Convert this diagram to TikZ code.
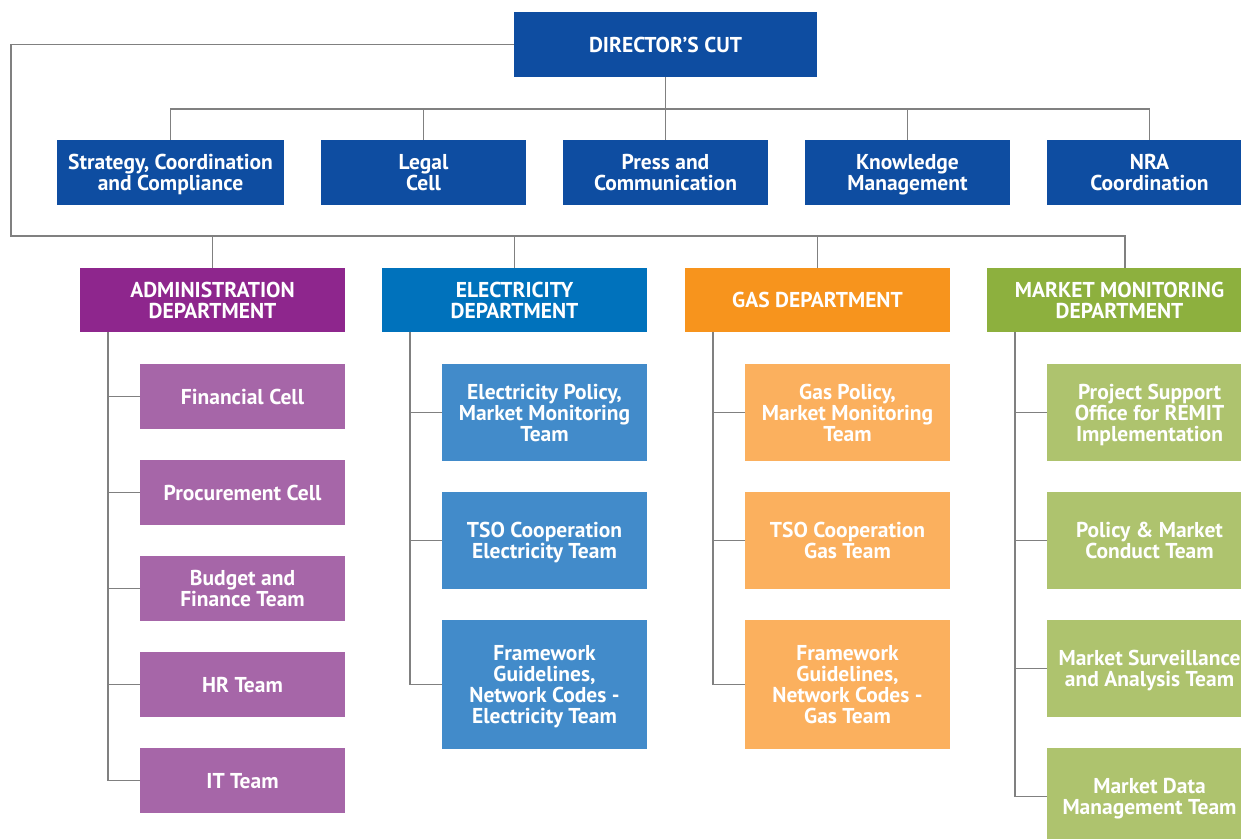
\documentclass[tikz,border=0pt]{standalone}
\usepackage{fontspec}
\setmainfont{PT Sans}
\definecolor{topblue}{RGB}{14,77,161}
\definecolor{admdark}{RGB}{142,38,141}
\definecolor{admlight}{RGB}{166,102,168}
\definecolor{eledark}{RGB}{0,114,188}
\definecolor{elelight}{RGB}{66,139,202}
\definecolor{gasdark}{RGB}{247,148,29}
\definecolor{gaslight}{RGB}{251,176,94}
\definecolor{mmdark}{RGB}{141,176,62}
\definecolor{mmlight}{RGB}{174,195,110}
\definecolor{linegray}{RGB}{128,128,128}
\begin{document}
\begin{tikzpicture}[x=1pt,y=-1pt,
  box/.style={rectangle, inner sep=0pt, text=white, align=center, text depth=0pt,
    font=\bfseries\fontsize{21.5}{21}\selectfont},
  topbox/.style={box, fill=topblue, minimum width=205pt, minimum height=65pt},
  dept/.style={box, minimum width=265pt, minimum height=64pt},
  kid/.style={box, minimum width=205pt},
  ln/.style={draw=linegray, line width=1.3pt}]
\useasboundingbox (0,0) rectangle (1241,838);
% director and top row
\node[topbox, minimum width=303pt] (dir) at (665.5,44.5) {DIRECTOR’S CUT};
\node[topbox, minimum width=227pt] (strat) at (170.5,172.5) {Strategy, Coordination\\and Compliance};
\node[topbox] (legal) at (423.5,172.5) {Legal\\Cell};
\node[topbox] (press) at (665.5,172.5) {Press and\\Communication};
\node[topbox] (know) at (907.5,172.5) {Knowledge\\Management};
\node[topbox] (nra) at (1149.5,172.5) {NRA\\Coordination};
% departments
\node[dept, fill=admdark] (adm) at (212.5,300) {ADMINISTRATION\\DEPARTMENT};
\node[dept, fill=eledark] (ele) at (514.5,300) {ELECTRICITY\\DEPARTMENT};
\node[dept, fill=gasdark] (gas) at (817.5,300) {GAS DEPARTMENT};
\node[dept, fill=mmdark] (mm) at (1119.5,300) {MARKET MONITORING\\DEPARTMENT};
% administration teams
\node[kid, fill=admlight, minimum height=65pt] (a1) at (242.5,396.5) {Financial Cell};
\node[kid, fill=admlight, minimum height=65pt] (a2) at (242.5,492.5) {Procurement Cell};
\node[kid, fill=admlight, minimum height=65pt] (a3) at (242.5,588.5) {Budget and\\Finance Team};
\node[kid, fill=admlight, minimum height=65pt] (a4) at (242.5,684.5) {HR Team};
\node[kid, fill=admlight, minimum height=65pt] (a5) at (242.5,780.5) {IT Team};
% electricity teams
\node[kid, fill=elelight, minimum height=97pt] (e1) at (544.5,412.5) {Electricity Policy,\\Market Monitoring\\Team};
\node[kid, fill=elelight, minimum height=97pt] (e2) at (544.5,540.5) {TSO Cooperation\\Electricity Team};
\node[kid, fill=elelight, minimum height=129pt] (e3) at (544.5,684.5) {Framework\\Guidelines,\\Network Codes -\\Electricity Team};
% gas teams
\node[kid, fill=gaslight, minimum height=97pt] (g1) at (847.5,412.5) {Gas Policy,\\Market Monitoring\\Team};
\node[kid, fill=gaslight, minimum height=97pt] (g2) at (847.5,540.5) {TSO Cooperation\\Gas Team};
\node[kid, fill=gaslight, minimum height=129pt] (g3) at (847.5,684.5) {Framework\\Guidelines,\\Network Codes -\\Gas Team};
% market monitoring teams
\node[kid, fill=mmlight, minimum height=97pt] (m1) at (1149.5,412.5) {Project Support\\Office for REMIT\\Implementation};
\node[kid, fill=mmlight, minimum height=97pt] (m2) at (1149.5,540.5) {Policy \& Market\\Conduct Team};
\node[kid, fill=mmlight, minimum height=97pt] (m3) at (1149.5,668.5) {Market Surveillance\\and Analysis Team};
\node[kid, fill=mmlight, minimum height=97pt] (m4) at (1149.5,796.5) {Market Data\\Management Team};
% helper coordinates
\coordinate (tl) at (11,236);
\coordinate (hy) at (0,109);
\coordinate (ax) at (108,0);
\coordinate (ex) at (410,0);
\coordinate (gx) at (713,0);
\coordinate (mx) at (1015,0);
% connectors: top
\draw[ln] (dir.west) -| (tl) -| ([xshift=5.5pt]mm.north);
\draw[ln] (dir.south) -- (press.north);
\draw[ln] (strat.north) |- (hy -| nra.north) -- (nra.north);
\foreach \n in {legal,know} \draw[ln] (\n.north) -- (\n.north |- hy);
\foreach \n in {adm,ele,gas} \draw[ln] (\n.north) -- (\n.north |- tl);
% connectors: teams
\draw[ln] (adm.south -| ax) |- (a5.west);
\foreach \n in {a1,a2,a3,a4} \draw[ln] (\n.west) -- (\n.west -| ax);
\draw[ln] (ele.south -| ex) |- (e3.west);
\foreach \n in {e1,e2} \draw[ln] (\n.west) -- (\n.west -| ex);
\draw[ln] (gas.south -| gx) |- (g3.west);
\foreach \n in {g1,g2} \draw[ln] (\n.west) -- (\n.west -| gx);
\draw[ln] (mm.south -| mx) |- (m4.west);
\foreach \n in {m1,m2,m3} \draw[ln] (\n.west) -- (\n.west -| mx);
\end{tikzpicture}
\end{document}
